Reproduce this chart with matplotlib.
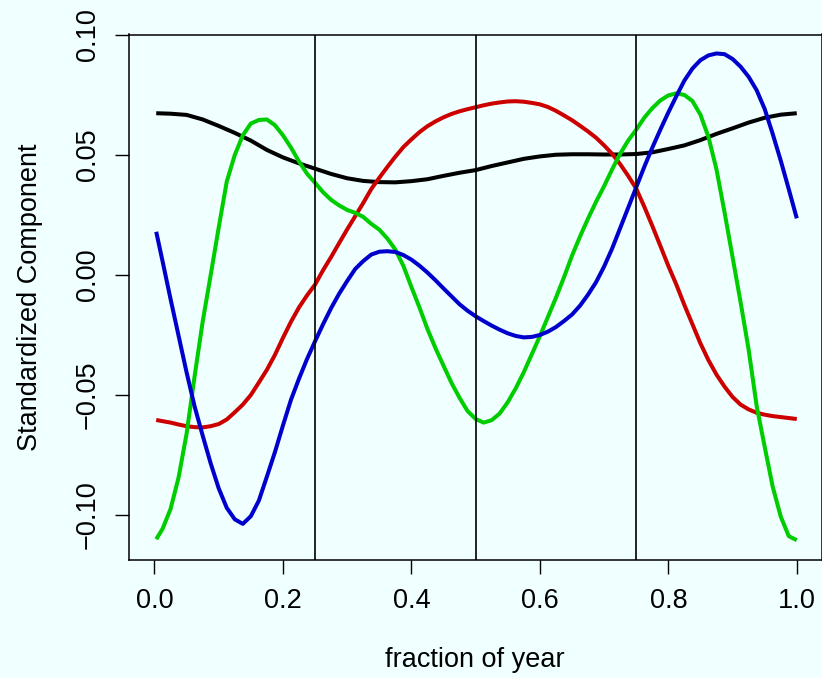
import matplotlib
matplotlib.use("Agg")
import matplotlib.pyplot as plt

plt.rcParams['font.family'] = ['Liberation Sans', 'DejaVu Sans']

# sample positions (fraction of year); first day is 1/365
frac_coarse = [max(i / 40, 0.0027) for i in range(41)]
frac_fine = [max(i / 80, 0.0027) for i in range(81)]

# values
comp_black = [0.0674, 0.0672, 0.0667, 0.0648, 0.0621, 0.0592, 0.0560, 0.0521, 0.0490, 0.0465,
              0.0443, 0.0421, 0.0403, 0.0392, 0.0387, 0.0386, 0.0391, 0.0399, 0.0413, 0.0426,
              0.0437, 0.0454, 0.0469, 0.0484, 0.0494, 0.0501, 0.0503, 0.0503, 0.0502, 0.0502,
              0.0504, 0.0511, 0.0525, 0.0540, 0.0562, 0.0588, 0.0611, 0.0635, 0.0655, 0.0668, 0.0674]

comp_red = [-0.0604, -0.0609, -0.0615, -0.0623, -0.0630, -0.0634, -0.0635, -0.0630, -0.0621,
            -0.0602, -0.0572, -0.0540, -0.0500, -0.0448, -0.0395, -0.0333, -0.0262, -0.0195,
            -0.0135, -0.0085, -0.0040, 0.0020, 0.0075, 0.0133, 0.0190, 0.0245, 0.0300, 0.0358,
            0.0405, 0.0450, 0.0493, 0.0533, 0.0565, 0.0595, 0.0620, 0.0640, 0.0657, 0.0671,
            0.0682, 0.0691, 0.0699, 0.0707, 0.0714, 0.0719, 0.0723, 0.0724, 0.0722, 0.0717,
            0.0711, 0.0700, 0.0684, 0.0665, 0.0645, 0.0622, 0.0598, 0.0572, 0.0540, 0.0505,
            0.0462, 0.0413, 0.0360, 0.0285, 0.0205, 0.0122, 0.0038, -0.0040, -0.0125, -0.0205,
            -0.0285, -0.0355, -0.0415, -0.0465, -0.0508, -0.0540, -0.0560, -0.0574, -0.0582,
            -0.0588, -0.0592, -0.0596, -0.0600]

comp_green = [-0.1101, -0.1058, -0.0975, -0.0844, -0.0661, -0.0421, -0.0195, 0.0000, 0.0198,
              0.0389, 0.0500, 0.0582, 0.0631, 0.0646, 0.0648, 0.0624, 0.0582, 0.0531, 0.0473,
              0.0422, 0.0384, 0.0345, 0.0313, 0.0290, 0.0271, 0.0259, 0.0242, 0.0213, 0.0189,
              0.0152, 0.0106, 0.0038, -0.0050, -0.0135, -0.0225, -0.0305, -0.0378, -0.0450,
              -0.0512, -0.0567, -0.0600, -0.0615, -0.0605, -0.0577, -0.0530, -0.0472, -0.0405,
              -0.0330, -0.0255, -0.0175, -0.0095, -0.0010, 0.0080, 0.0160, 0.0235, 0.0305,
              0.0370, 0.0440, 0.0505, 0.0560, 0.0605, 0.0655, 0.0695, 0.0727, 0.0748, 0.0757,
              0.0750, 0.0725, 0.0668, 0.0575, 0.0440, 0.0262, 0.0075, -0.0113, -0.0310, -0.0545,
              -0.0715, -0.0882, -0.1006, -0.1088, -0.1105]

comp_blue = [0.0180, 0.0058, -0.0100, -0.0253, -0.0406, -0.0548, -0.0669, -0.0785, -0.0889,
             -0.0970, -0.1018, -0.1037, -0.1005, -0.0940, -0.0840, -0.0738, -0.0627, -0.0520,
             -0.0432, -0.0350, -0.0276, -0.0205, -0.0138, -0.0078, -0.0025, 0.0025, 0.0058,
             0.0085, 0.0097, 0.0099, 0.0096, 0.0083, 0.0064, 0.0039, 0.0010, -0.0022, -0.0056,
             -0.0089, -0.0122, -0.0149, -0.0172, -0.0192, -0.0211, -0.0228, -0.0243, -0.0254,
             -0.0260, -0.0258, -0.0250, -0.0236, -0.0217, -0.0192, -0.0165, -0.0128, -0.0082,
             -0.0030, 0.0035, 0.0110, 0.0195, 0.0280, 0.0365, 0.0450, 0.0530, 0.0605, 0.0677,
             0.0745, 0.0810, 0.0860, 0.0895, 0.0915, 0.0923, 0.0920, 0.0900, 0.0868, 0.0826,
             0.0770, 0.0692, 0.0588, 0.0477, 0.0358, 0.0236]

quarters = [0.25, 0.5, 0.75]
xticks = [0.0, 0.2, 0.4, 0.6, 0.8, 1.0]
yticks = [-0.10, -0.05, 0.00, 0.05, 0.10]

bg = "#F0FFFF"
fig = plt.figure(figsize=(8.22, 6.78), dpi=100, facecolor=bg)
ax = fig.add_axes([128.8 / 822, 118 / 678, (821.5 - 128.8) / 822, 525.5 / 678])
ax.set_facecolor(bg)

ax.plot(frac_coarse, comp_black, color="black", lw=2.9, solid_capstyle="butt")
ax.plot(frac_fine, comp_red, color="#CD0000", lw=2.9, solid_capstyle="butt")
ax.plot(frac_fine, comp_green, color="#00CD00", lw=2.9, solid_capstyle="butt")
ax.plot(frac_fine, comp_blue, color="#0000CD", lw=2.9, solid_capstyle="butt")
for q in quarters:
    ax.axvline(q, color="black", lw=1.2)

ax.set_xlim(-0.04, 1.0385)
ax.set_ylim(-0.11875, 0.1002)

ax.set_xticks(xticks)
ax.set_xticklabels([f"{t:.1f}" for t in xticks])
ax.set_yticks(yticks)
ax.set_yticklabels([f"{t:.2f}".replace("-", "\u2212") for t in yticks],
                   rotation=90, va="center")
ax.tick_params(direction="out", length=10, width=1.0, labelsize=19.5,
               color="black", pad=10)

for s in ax.spines.values():
    s.set_linewidth(1.1)
    s.set_color("black")

ax.set_xlabel("fraction of year", fontsize=19.5, labelpad=24)
ax.set_ylabel("Standardized Component", fontsize=19.5, labelpad=23)

fig.savefig("out.png", dpi=100, facecolor=bg)
